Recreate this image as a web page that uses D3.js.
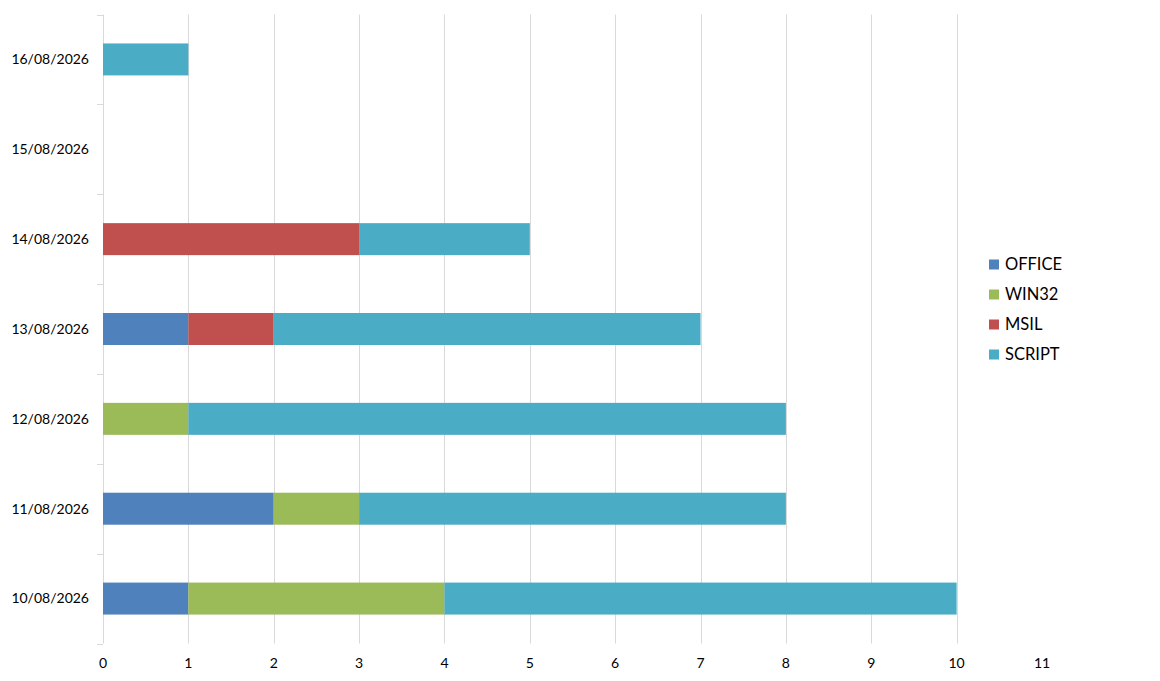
<!DOCTYPE html>
<html><head><meta charset="utf-8">
<script src="https://cdn.jsdelivr.net/npm/d3@7"></script>
<style>body{margin:0;background:#fff;} text{font-family:Lato, "Open Sans", sans-serif;fill:#000;}</style>
</head><body>
<svg id="c" width="1160" height="681"></svg>
<script>
const categories = ["10/08/2026","11/08/2026","12/08/2026","13/08/2026","14/08/2026","15/08/2026","16/08/2026"];
const seriesNames = ["OFFICE","WIN32","MSIL","SCRIPT"];
const office = [1,2,0,1,0,0,0];
const win32  = [3,1,1,0,0,0,0];
const msil   = [0,0,0,1,3,0,0];
const script = [6,5,7,5,2,0,1];
const xTicks = [0,1,2,3,4,5,6,7,8,9,10,11];
const colors = ["#4f81bd","#9bbb59","#c0504d","#4bacc6"];

(function(){
const svg = d3.select("#c");
const pL = 103, pR = 1042, pT = 14.5, pB = 643.5;
const x = d3.scaleLinear().domain([0,11]).range([pL,pR]);
const y = d3.scaleBand().domain(categories.slice().reverse()).range([pT,pB]).paddingInner(0.644).paddingOuter(0.322);
const band = d3.scaleBand().domain(categories.slice().reverse()).range([pT,pB]);

svg.append("g").selectAll("line").data(xTicks.filter(t=>t>0 && t<11)).join("line")
  .attr("x1",d=>Math.round(x(d))+0.5).attr("x2",d=>Math.round(x(d))+0.5).attr("y1",pT).attr("y2",pB)
  .attr("stroke","#d9d9d9").attr("stroke-width",1);

svg.append("line").attr("x1",pL+0.5).attr("x2",pL+0.5).attr("y1",pT).attr("y2",pB).attr("stroke","#d9d9d9");
const bounds = categories.map(c=>band(c)).concat([pB]);
svg.append("g").selectAll("line").data(bounds).join("line")
  .attr("x1",pL-6).attr("x2",pL).attr("y1",d=>Math.round(d)+0.5).attr("y2",d=>Math.round(d)+0.5)
  .attr("stroke","#d9d9d9");

const data = categories.map((c,i)=>({cat:c, OFFICE:office[i], WIN32:win32[i], MSIL:msil[i], SCRIPT:script[i]}));
const stack = d3.stack().keys(seriesNames)(data);
svg.append("g").selectAll("g").data(stack).join("g").attr("fill",(d,i)=>colors[i])
  .selectAll("rect").data(d=>d.filter(p=>p[1]>p[0])).join("rect")
  .attr("x",d=>x(d[0])).attr("width",d=>x(d[1])-x(d[0]))
  .attr("y",d=>y(d.data.cat)).attr("height",y.bandwidth());

svg.append("g").selectAll("text").data(categories).join("text")
  .attr("x",89).attr("y",d=>y(d)+y.bandwidth()/2).attr("dy","0.35em")
  .attr("text-anchor","end").style("font-size","14px").text(d=>d);

svg.append("g").selectAll("text").data(xTicks).join("text")
  .attr("x",d=>x(d)).attr("y",663).attr("dy","0.35em")
  .attr("text-anchor","middle").style("font-size","14px").text(d=>d);

const lg = svg.append("g").selectAll("g").data(seriesNames).join("g")
  .attr("transform",(d,i)=>`translate(989,${264.5+i*30})`);
lg.append("rect").attr("x",0).attr("y",-5).attr("width",10).attr("height",10).attr("fill",(d,i)=>colors[i]);
lg.append("text").attr("x",16).attr("y",0).attr("dy","0.35em").style("font-size","16.5px").text(d=>d);
})();
</script>
</body></html>
